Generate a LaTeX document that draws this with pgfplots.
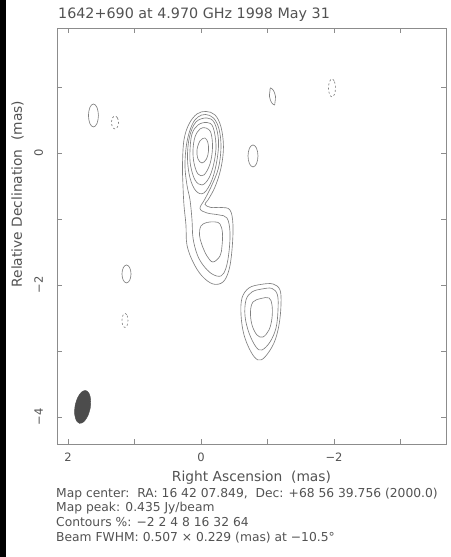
\documentclass[border=0pt]{standalone}
\usepackage{pgfplots}
\pgfplotsset{compat=1.18}
\usepackage{fontspec}
\setmainfont{DejaVu Sans}
\definecolor{ink}{gray}{0.32}
\definecolor{cline}{gray}{0.5}
\definecolor{frame}{gray}{0.55}
\begin{document}
\begin{tikzpicture}
\useasboundingbox (0,0) rectangle (450pt,557pt);
\fill[black] (0,0) rectangle (6pt,557pt);
\begin{axis}[
  at={(57pt,113pt)}, anchor=south west,
  width=389pt, height=415.5pt, scale only axis,
  x dir=reverse,
  xmin=-3.684, xmax=2.165,
  ymin=-4.41, ymax=1.886,
  xtick={-2,0,2}, xticklabels={−2,0,2},
  ytick={-4,-2,0}, yticklabels={−4,−2,0},
  minor xtick={-3,-1,1}, minor ytick={-3,-1,1},
  tick align=inside, major tick length=5pt, minor tick length=5pt,
  axis line style={frame, line width=0.65pt},
  every tick/.style={frame, line width=0.65pt},
  every minor tick/.style={frame, line width=0.65pt},
  tick label style={text=ink, font=\fontsize{11.5pt}{13pt}\selectfont},
  xticklabel style={anchor=base, yshift=-17.7pt},
  yticklabel style={xshift=-14pt, rotate=90, anchor=base},
  xlabel={Right Ascension~~(mas)},
  ylabel={Relative Declination~~(mas)},
  label style={text=ink, font=\fontsize{13.8pt}{16pt}\selectfont},
  xlabel style={at={(axis description cs:0.5,-0.0891)}, anchor=base},
  ylabel style={at={(axis description cs:-0.0900,0.6017)}, anchor=base, rotate=0},
  cont/.style={cline, line width=0.65pt, smooth cycle, tension=0.6},
  neg/.style={cline, line width=0.65pt, smooth cycle, tension=0.6, dash pattern=on 2pt off 2.2pt},
]
% core + jet, 2%
\addplot[cont] coordinates {(-0.075,0.629) (-0.211,0.576) (-0.301,0.394) (-0.338,0.091) (-0.301,-0.227) (-0.211,-0.515) (-0.105,-0.712) (-0.060,-0.780) (-0.150,-0.826) (-0.301,-0.826) (-0.436,-0.864) (-0.481,-1.091) (-0.466,-1.470) (-0.421,-1.773) (-0.331,-1.955) (-0.180,-1.985) (-0.015,-1.864) (0.120,-1.652) (0.211,-1.394) (0.226,-1.091) (0.256,-0.788) (0.271,-0.485) (0.278,-0.182) (0.256,0.197) (0.180,0.439) (0.060,0.591)};
% 4%
\addplot[cont] coordinates {(-0.068,0.583) (-0.188,0.530) (-0.271,0.364) (-0.301,0.091) (-0.263,-0.227) (-0.165,-0.485) (-0.060,-0.697) (0.015,-0.841) (-0.090,-0.909) (-0.271,-0.939) (-0.391,-0.985) (-0.436,-1.197) (-0.421,-1.500) (-0.376,-1.742) (-0.301,-1.864) (-0.165,-1.833) (-0.030,-1.697) (0.060,-1.530) (0.120,-1.288) (0.135,-1.015) (0.165,-0.712) (0.211,-0.485) (0.241,-0.182) (0.211,0.167) (0.135,0.424) (0.045,0.545)};
% 8% core
\addplot[cont] coordinates {(-0.090,0.530) (-0.203,0.455) (-0.263,0.197) (-0.241,-0.106) (-0.165,-0.409) (-0.045,-0.606) (0.075,-0.576) (0.165,-0.379) (0.203,-0.076) (0.173,0.242) (0.075,0.470)};
% 16%
\addplot[cont] coordinates {(-0.090,0.462) (-0.180,0.394) (-0.226,0.121) (-0.195,-0.152) (-0.120,-0.379) (-0.015,-0.485) (0.090,-0.409) (0.158,-0.182) (0.165,0.045) (0.135,0.288) (0.045,0.424)};
% 32%
\addplot[cont] coordinates {(-0.075,0.379) (-0.150,0.303) (-0.173,0.076) (-0.135,-0.167) (-0.045,-0.333) (0.045,-0.318) (0.105,-0.152) (0.120,0.045) (0.090,0.242) (0.015,0.364)};
% 64%
\addplot[cont] coordinates {(-0.060,0.227) (-0.105,0.152) (-0.113,0.030) (-0.083,-0.091) (-0.015,-0.152) (0.045,-0.091) (0.060,0.045) (0.015,0.182)};
% 8% lower component
\addplot[cont] coordinates {(0,-1.106) (-0.090,-1.053) (-0.211,-1.045) (-0.286,-1.076) (-0.323,-1.212) (-0.316,-1.409) (-0.286,-1.561) (-0.180,-1.652) (-0.090,-1.561) (-0.015,-1.394) (0.023,-1.242)};
% component at (-0.9,-2.5)
\addplot[cont] coordinates {(-0.902,-1.992) (-1.083,-1.985) (-1.188,-2.076) (-1.203,-2.303) (-1.173,-2.606) (-1.098,-2.879) (-0.962,-3.091) (-0.857,-3.136) (-0.752,-3.015) (-0.647,-2.758) (-0.602,-2.455) (-0.617,-2.197) (-0.722,-2.045)};
\addplot[cont] coordinates {(-0.917,-2.061) (-1.068,-2.053) (-1.150,-2.152) (-1.158,-2.379) (-1.128,-2.652) (-1.038,-2.864) (-0.917,-2.985) (-0.827,-2.939) (-0.722,-2.727) (-0.662,-2.470) (-0.677,-2.227) (-0.767,-2.106)};
\addplot[cont] coordinates {(-0.902,-2.205) (-1.023,-2.197) (-1.068,-2.303) (-1.068,-2.500) (-1.023,-2.682) (-0.932,-2.788) (-0.842,-2.758) (-0.767,-2.606) (-0.744,-2.409) (-0.782,-2.258)};
% small positive islands
\addplot[cont] coordinates {(1.617,0.742) (1.564,0.691) (1.542,0.568) (1.564,0.445) (1.617,0.394) (1.670,0.445) (1.692,0.568) (1.670,0.691)};
\addplot[cont] coordinates {(1.120,-1.697) (1.072,-1.737) (1.052,-1.833) (1.072,-1.929) (1.120,-1.969) (1.168,-1.929) (1.188,-1.833) (1.168,-1.737)};
\addplot[cont] coordinates {(-1.045,0.985) (-1.090,0.947) (-1.120,0.856) (-1.112,0.765) (-1.105,0.727) (-1.060,0.765) (-1.030,0.856) (-1.038,0.947)};
\addplot[cont] coordinates {(-0.782,0.122) (-0.835,0.073) (-0.857,-0.045) (-0.835,-0.163) (-0.782,-0.212) (-0.729,-0.163) (-0.707,-0.045) (-0.729,0.073)};
% negative contours (-2%)
\addplot[neg] coordinates {(1.293,0.560) (1.256,0.531) (1.240,0.462) (1.256,0.393) (1.293,0.364) (1.330,0.393) (1.346,0.462) (1.330,0.531)};
\addplot[neg] coordinates {(1.143,-2.432) (1.111,-2.463) (1.098,-2.538) (1.111,-2.613) (1.143,-2.644) (1.175,-2.613) (1.188,-2.538) (1.175,-2.463)};
\addplot[neg] coordinates {(-1.970,1.121) (-2.007,1.081) (-2.023,0.985) (-2.007,0.889) (-1.970,0.849) (-1.933,0.889) (-1.917,0.985) (-1.933,1.081)};
% beam
\addplot[fill=black!70, draw=black!70, line width=0.4pt, smooth cycle] coordinates {(1.733,-3.599) (1.795,-3.622) (1.853,-3.705) (1.892,-3.827) (1.900,-3.955) (1.875,-4.053) (1.825,-4.097) (1.763,-4.074) (1.705,-3.991) (1.666,-3.869) (1.658,-3.741) (1.683,-3.643)};
\end{axis}
\node[anchor=base west, inner sep=0, text=ink, font=\fontsize{14.3pt}{17pt}\selectfont] at (58pt,538.5pt) {1642+690 at 4.970 GHz 1998 May 31};
\begin{scope}[every node/.style={anchor=base west, inner sep=0, text=ink, font=\fontsize{12.3pt}{14pt}\selectfont}]
\node at (56pt,59.5pt) {Map center:~~RA: 16 42 07.849,~~Dec: +68 56 39.756 (2000.0)};
\node at (56pt,45pt) {Map peak: 0.435 Jy/beam};
\node at (56pt,30pt) {Contours \%: −2 2 4 8 16 32 64};
\node at (56pt,15pt) {Beam FWHM: 0.507 × 0.229 (mas) at −10.5°};
\end{scope}
\end{tikzpicture}
\end{document}
